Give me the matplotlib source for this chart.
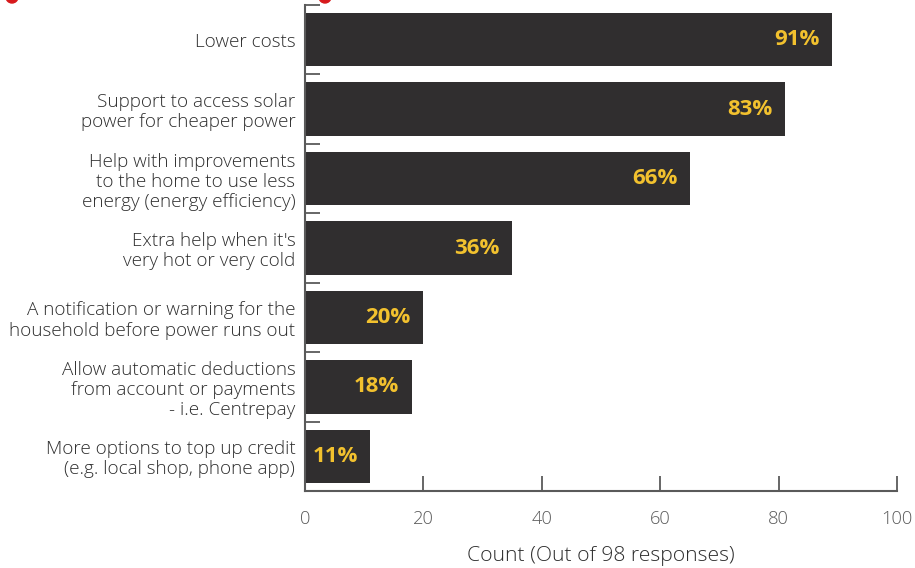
import matplotlib
matplotlib.use('Agg')
import matplotlib.pyplot as plt
from matplotlib.patches import Ellipse

TOTAL = 98
categories = [
    'Lower costs',
    'Support to access solar\npower for cheaper power',
    'Help with improvements\nto the home to use less\nenergy (energy efficiency)',
    "Extra help when it's\nvery hot or very cold",
    'A notification or warning for the\nhousehold before power runs out',
    'Allow automatic deductions\nfrom account or payments\n- i.e. Centrepay',
    'More options to top up credit\n(e.g. local shop, phone app)',
]
counts = [89, 81, 65, 35, 20, 18, 11]
xticks = [0, 20, 40, 60, 80, 100]

BAR = '#302e2f'
LABEL = '#f2c12e'
AXIS = '#5a5a5a'
TEXT = '#2e2e2e'

plt.rcParams['font.family'] = ['Open Sans', 'DejaVu Sans']

fig = plt.figure(figsize=(9.15, 5.68), dpi=100)
ax = fig.add_axes([305 / 915, 1 - 491 / 568, 592 / 915, 486 / 568])

ypos = list(range(len(categories)))
ax.barh(ypos, counts, height=0.77, color=BAR)

for y, c in zip(ypos, counts):
    pct = round(c / TOTAL * 100)
    ax.annotate(f'{pct}%', (c, y), xytext=(-9, 0), textcoords='offset points',
                ha='right', va='center', color=LABEL, fontsize=16,
                fontweight='bold')

ax.set_xlim(0, 100)
ax.set_ylim(len(categories) - 0.5, -0.5)
ax.set_xticks(xticks)
ax.set_yticks(ypos)
ax.set_yticklabels(categories, fontsize=13.6, color=TEXT, fontweight='light',
                   linespacing=1.15)
ax.set_yticks([i - 0.5 for i in range(len(categories))], minor=True)

ax.tick_params(axis='y', which='major', length=0, pad=7)
ax.tick_params(axis='y', which='minor', direction='in', length=11,
               width=1.3, color=AXIS)
ax.tick_params(axis='x', direction='in', length=11, width=1.3, color=AXIS,
               labelsize=13.2, labelcolor=AXIS, pad=14)
for lbl in ax.get_xticklabels():
    lbl.set_fontweight('light')

for side in ('top', 'right'):
    ax.spines[side].set_visible(False)
for side in ('left', 'bottom'):
    ax.spines[side].set_color(AXIS)
    ax.spines[side].set_linewidth(1.5)

ax.set_xlabel('Count (Out of 98 responses)', fontsize=15.2, color=TEXT,
              fontweight='light', labelpad=13)

# red markers peeking in from the page above
for cx in (12, 325):
    fig.add_artist(Ellipse((cx / 915, 1 + 3 / 568), 12 / 915, 12 / 568,
                           transform=fig.transFigure, color='#d7191c'))

fig.savefig('out.png', dpi=100)
